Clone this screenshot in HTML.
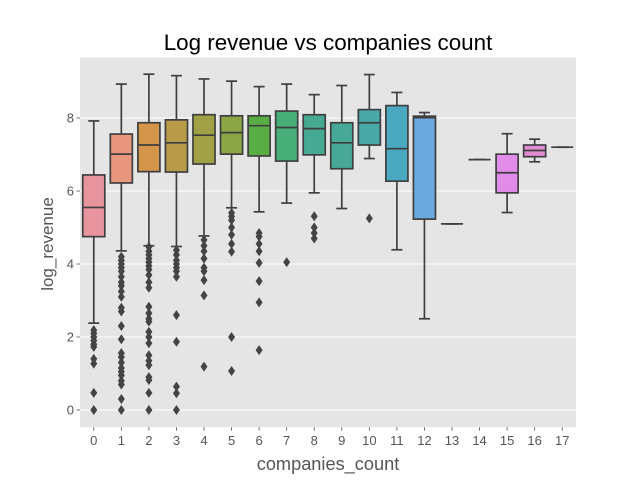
<!DOCTYPE html>
<html><head><meta charset="utf-8">
<style>
body{margin:0;background:#fff;}
svg{display:block;font-family:"Liberation Sans",sans-serif;}
</style></head>
<body>
<svg id="chart" width="640" height="480">
<rect x="0" y="0" width="640" height="480" fill="#fff"/>
<rect x="80" y="57.6" width="496" height="369.6" fill="#e5e5e5"/>
<g id="grid"></g>
<g id="marks"></g>
<g id="axes"></g>
<text x="328" y="50" text-anchor="middle" font-size="22.4" fill="#000">Log revenue vs companies count</text>
<text x="328" y="470" text-anchor="middle" font-size="18.2" fill="#555">companies_count</text>
<text x="53" y="244" text-anchor="middle" font-size="17" fill="#555" transform="rotate(-90 53 244)">log_revenue</text>
</svg>
<script>
const categories=["0","1","2","3","4","5","6","7","8","9","10","11","12","13","14","15","16","17"];
const whiskerLow=[2.38,4.36,4.5,4.48,4.77,5.54,5.43,5.67,5.95,5.52,6.89,4.39,2.5,5.1,6.86,5.41,6.8,7.2];
const q1=[4.75,6.22,6.53,6.52,6.74,7.01,6.96,6.82,6.99,6.61,7.26,6.27,5.23,5.1,6.86,5.95,6.94,7.2];
const medians=[5.55,7.01,7.26,7.32,7.53,7.6,7.79,7.74,7.71,7.32,7.87,7.16,8.01,5.1,6.86,6.5,7.11,7.2];
const q3=[6.44,7.56,7.87,7.95,8.09,8.06,8.06,8.19,8.09,7.87,8.23,8.34,8.05,5.1,6.86,7.01,7.26,7.2];
const whiskerHigh=[7.92,8.93,9.2,9.16,9.07,9.01,8.86,8.93,8.64,8.89,9.19,8.7,8.15,5.1,6.86,7.57,7.42,7.2];
const outliers=[
[2.19,2.1,2.0,1.9,1.8,1.73,1.4,1.27,0.47,0],
[4.2,4.1,4.0,3.9,3.8,3.65,3.5,3.4,3.25,3.1,2.8,2.7,2.3,1.94,1.56,1.45,1.3,1.15,1.05,0.95,0.8,0.7,0.3,0],
[4.47,4.35,4.25,4.15,4.05,3.95,3.85,3.7,3.5,3.35,2.83,2.65,2.5,2.42,2.14,2.0,1.83,1.5,1.35,1.23,0.9,0.82,0.47,0],
[4.38,4.25,4.1,4.0,3.9,3.8,3.65,2.6,1.87,0.64,0.46,0],
[4.66,4.5,4.35,4.15,3.9,3.8,3.56,3.14,1.19],
[5.4,5.3,5.2,5.0,4.8,4.55,4.34,2.0,1.07],
[4.85,4.75,4.55,4.35,4.03,3.53,2.95,1.64],
[4.05],
[5.31,5.0,4.85,4.7],
[],
[5.25],
[],[],[],[],[],[],[]
];
const colors=["#e8949f","#e8967e","#d2954a","#b89b49","#a0a044","#8ca646","#5aac45","#47ae7a","#46aa93","#47a898","#49a9a8","#4aa8c0","#6aaae0","#8aa0e8","#b094e8","#e08ce8","#e48cd4","#e88cb8"];
const yTicks=[0,2,4,6,8];

const NS="http://www.w3.org/2000/svg";
const X0=80,X1=576,Y0=57.6,Y1=427.2,YMIN=-0.471,YMAX=9.655;
const band=(X1-X0)/categories.length;
function xScale(i){return X0+band*(i+0.5);}
function yScale(v){return Y1-(v-YMIN)/(YMAX-YMIN)*(Y1-Y0);}
function mk(tag,attrs,parent){const e=document.createElementNS(NS,tag);for(const k in attrs)e.setAttribute(k,attrs[k]);parent.appendChild(e);return e;}
const grid=document.getElementById('grid'),marks=document.getElementById('marks'),axes=document.getElementById('axes');
const LC="#3f3f3f";
yTicks.forEach(t=>{
  const y=yScale(t);
  const g=mk('line',{x1:X0,x2:X1,y1:y,y2:y,stroke:'#fff','stroke-width':1},grid);
  
  
  const tk=mk('line',{x1:X0-3.5,x2:X0,y1:y,y2:y,stroke:'#555','stroke-width':0.8},axes);
  
  
  const tx=mk('text',{x:X0-6,y:y+4.5,'text-anchor':'end','font-size':13,fill:'#555'},axes);
  tx.textContent=t;
  
  
});
categories.forEach((c,i)=>{
  const cx=xScale(i),w=band*0.8;
  const tk=mk('line',{x1:cx,x2:cx,y1:Y1,y2:Y1+3.5,stroke:'#555','stroke-width':0.8},axes);
  
  
  const tx=mk('text',{x:cx,y:Y1+18,'text-anchor':'middle','font-size':13,fill:'#555'},axes);
  tx.textContent=c;
  
  
  const g=mk('g',{},marks);
  
  
  const yl=yScale(whiskerLow[i]),yh=yScale(whiskerHigh[i]),ya=yScale(q1[i]),yb=yScale(q3[i]),ym=yScale(medians[i]);
  mk('line',{x1:cx,x2:cx,y1:ya,y2:yl,stroke:LC,'stroke-width':1.7},g);
  mk('line',{x1:cx,x2:cx,y1:yb,y2:yh,stroke:LC,'stroke-width':1.7},g);
  mk('line',{x1:cx-w/4,x2:cx+w/4,y1:yl,y2:yl,stroke:LC,'stroke-width':1.7},g);
  mk('line',{x1:cx-w/4,x2:cx+w/4,y1:yh,y2:yh,stroke:LC,'stroke-width':1.7},g);
  mk('rect',{x:cx-w/2,y:yb,width:w,height:Math.max(0,ya-yb),fill:colors[i],stroke:LC,'stroke-width':1.7},g);
  mk('line',{x1:cx-w/2,x2:cx+w/2,y1:ym,y2:ym,stroke:LC,'stroke-width':1.7},g);
  outliers[i].forEach(v=>{
    const y=yScale(v);
    const d=mk('path',{d:`M${cx},${y-5} L${cx+3.5},${y} L${cx},${y+5} L${cx-3.5},${y} Z`,fill:'#444'},g);
    
    
  });
});
</script>
</body></html>
